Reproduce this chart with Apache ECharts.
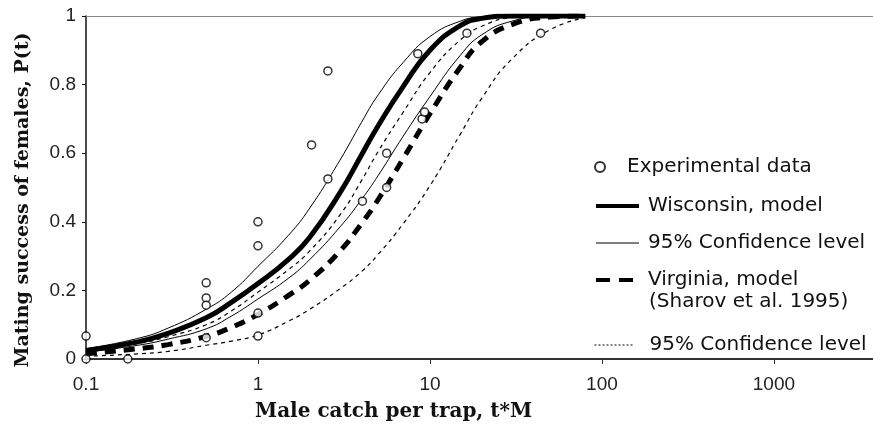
<!DOCTYPE html>
<html>
<head>
<meta charset="utf-8">
<script src="https://cdn.jsdelivr.net/npm/echarts@6/dist/echarts.min.js"></script>
<style>
  html, body { margin: 0; padding: 0; background: #fff; }
  #matingChart { width: 873px; height: 429px; }
</style>
</head>
<body>
<div id="matingChart"></div>
<script>
// x ticks shown on the log axis
var xTicks = [0.1, 1, 10, 100, 1000]
var yTicks = [0, 0.2, 0.4, 0.6, 0.8, 1]

// experimental points [t*M, P(t)]
var expData = [
  [0.1, 0.067], [0.1, 0], [0.175, 0],
  [0.5, 0.222], [0.5, 0.178], [0.5, 0.157], [0.5, 0.062],
  [1, 0.40], [1, 0.33], [1, 0.134], [1, 0.067],
  [2.05, 0.624], [2.55, 0.84], [2.55, 0.525], [4.05, 0.46],
  [5.6, 0.60], [5.6, 0.50], [8.5, 0.89], [9, 0.70], [9.3, 0.72],
  [16.4, 0.95], [44, 0.95]
]

// t*M values where the curves were read
var tGrid = [0.1, 0.2, 0.3, 0.5, 0.7, 1, 1.5, 2, 3, 4, 5, 7, 10, 15, 20, 30, 50, 80]

// Wisconsin model and its 95% band
var wiModel = [0.025, 0.05, 0.075, 0.12, 0.165, 0.22, 0.29, 0.355, 0.485, 0.595, 0.68, 0.795, 0.90, 0.972, 0.993, 1, 1, 1]
var wiUpper = [0.03, 0.06, 0.09, 0.145, 0.195, 0.27, 0.36, 0.44, 0.58, 0.69, 0.77, 0.865, 0.94, 0.985, 0.997, 1, 1, 1]
var wiLower = [0.02, 0.04, 0.058, 0.088, 0.125, 0.175, 0.235, 0.29, 0.385, 0.465, 0.535, 0.65, 0.765, 0.885, 0.945, 0.985, 1, 1]

// Virginia model (Sharov et al. 1995) and its 95% band
var vaModel = [0.015, 0.03, 0.042, 0.066, 0.092, 0.13, 0.185, 0.23, 0.315, 0.395, 0.465, 0.585, 0.715, 0.85, 0.925, 0.975, 0.997, 1]
var vaUpper = [0.022, 0.045, 0.065, 0.10, 0.14, 0.195, 0.26, 0.315, 0.42, 0.52, 0.605, 0.72, 0.835, 0.93, 0.97, 0.995, 1, 1]
var vaLower = [0.008, 0.015, 0.022, 0.04, 0.052, 0.07, 0.11, 0.145, 0.205, 0.255, 0.305, 0.395, 0.505, 0.655, 0.76, 0.875, 0.96, 0.995]

var legendNames = {
  exp: 'Experimental data',
  wi: 'Wisconsin, model',
  ciW: '95% Confidence level',
  va: 'Virginia, model',
  ciV: '95% Confidence level'
}

var legendText = {
  fontFamily: 'DejaVu Sans',
  fontSize: 20,
  color: '#111',
  lineHeight: 20
}

function pairs(ys) {
  return tGrid.map(function(t, i) { return [t, ys[i]] })
}

function lineSeries(id, ys, width, type) {
  return {
    name: id,
    type: 'line',
    data: pairs(ys),
    showSymbol: false,
    symbol: 'none',
    smooth: 0.5,
    lineStyle: { color: '#000', width: width, type: type },
    itemStyle: { color: '#000' },
    z: 2
  }
}

var chart = echarts.init(document.getElementById('matingChart'))
var option = {
  animation: false,
  backgroundColor: '#fff',
  grid: { left: 86, right: 0, top: 16, bottom: 70 },
  title: {
    text: 'Male catch per trap, t*M',
    left: 255,
    top: 402,
    padding: 0,
    textStyle: { fontFamily: 'DejaVu Serif', fontWeight: 'bold', fontSize: 20, color: '#111' }
  },
  legend: [
    {
      orient: 'vertical',
      left: 589,
      top: 152,
      itemWidth: 10,
      itemHeight: 10,
      data: ['exp'],
      formatter: function(n) { return legendNames[n] },
      textStyle: Object.assign({ padding: [0, 0, 0, 17] }, legendText)
    },
    {
      orient: 'vertical',
      left: 589,
      top: 191,
      itemWidth: 43,
      itemHeight: 14,
      itemGap: 17,
      data: [
        { name: 'wi', lineStyle: { width: 4, type: 'solid', color: '#000' } },
        { name: 'ciW', lineStyle: { width: 1, type: 'solid', color: '#000' } },
        { name: 'va', lineStyle: { width: 4, type: [14, 9], color: '#000' } }
      ],
      formatter: function(n) { return legendNames[n] },
      itemStyle: { opacity: 0 },
      textStyle: Object.assign({ padding: [0, 0, 0, 4] }, legendText)
    },
    {
      orient: 'vertical',
      left: 589,
      top: 330,
      itemWidth: 40,
      itemHeight: 14,
      data: [
        { name: 'ciV', lineStyle: { width: 1, type: [2, 2], color: '#000' } }
      ],
      formatter: function(n) { return legendNames[n] },
      itemStyle: { opacity: 0 },
      textStyle: Object.assign({ padding: [0, 0, 0, 10] }, legendText)
    }
  ],
  graphic: [
    {
      type: 'text',
      left: 649,
      top: 292,
      style: { text: '(Sharov et al. 1995)', font: '20px "DejaVu Sans"', fill: '#111' }
    },
    {
      type: 'text',
      x: 23,
      y: 200,
      rotation: Math.PI / 2,
      style: {
        text: 'Mating success of females, P(t)',
        font: 'bold 19px "DejaVu Serif"',
        fill: '#111',
        align: 'center',
        verticalAlign: 'middle'
      }
    }
  ],
  xAxis: [
    {
      type: 'log',
      logBase: 10,
      min: 0.1,
      max: 3770,
      axisLine: { lineStyle: { color: '#333', width: 2 } },
      axisTick: { show: true, length: 5, lineStyle: { color: '#333' } },
      axisLabel: {
        margin: 16,
        showMaxLabel: false,
        fontFamily: 'Liberation Sans',
        fontSize: 19,
        color: '#222',
        formatter: function(v) {
          return xTicks.some(function(x) { return Math.abs(x - v) / x < 1e-6 }) ? String(v) : ''
        }
      },
      splitLine: { show: false },
      minorTick: { show: false }
    },
    {
      // plain top border
      type: 'value',
      position: 'top',
      min: 0,
      max: 1,
      axisLine: { show: true, lineStyle: { color: '#888', width: 1 } },
      axisTick: { show: false },
      axisLabel: { show: false },
      splitLine: { show: false }
    }
  ],
  yAxis: {
    type: 'value',
    min: 0,
    max: 1,
    interval: 0.2,
    axisLine: { show: true, lineStyle: { color: '#111', width: 1.5 } },
    axisTick: { show: true, length: 4, lineStyle: { color: '#111' } },
    axisLabel: {
      margin: 10,
      fontFamily: 'Liberation Sans',
      fontSize: 19,
      color: '#222',
      formatter: function(v) { return yTicks.indexOf(v) >= 0 ? String(v) : '' }
    },
    splitLine: { show: false }
  },
  series: [
    lineSeries('ciV', vaUpper, 1.2, [4, 4]),
    lineSeries('ciV', vaLower, 1.2, [4, 4]),
    lineSeries('va', vaModel, 5, [11, 8]),
    lineSeries('ciW', wiUpper, 1, 'solid'),
    lineSeries('ciW', wiLower, 1, 'solid'),
    lineSeries('wi', wiModel, 5, 'solid'),
    {
      name: 'exp',
      type: 'scatter',
      data: expData,
      symbol: 'circle',
      symbolSize: 8,
      itemStyle: { color: '#fff', borderColor: '#000', borderWidth: 1.5 },
      z: 5
    }
  ]
}
chart.setOption(option)
</script>
</body>
</html>
